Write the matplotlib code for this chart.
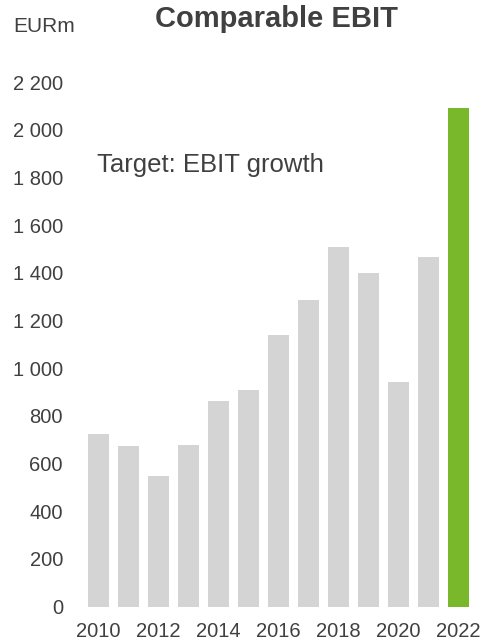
import matplotlib
matplotlib.use("Agg")
import matplotlib.pyplot as plt
from matplotlib.ticker import FuncFormatter

years = list(range(2010, 2023))
ebit = [724, 674, 548, 677, 860, 909, 1137, 1287, 1509, 1399, 941, 1466, 2089]
bar_colors = ["#D4D4D4"] * 12 + ["#78B82A"]
yticks = list(range(0, 2201, 200))
xtick_years = [2010, 2012, 2014, 2016, 2018, 2020, 2022]

plt.rcParams['font.family'] = ['Liberation Sans', 'DejaVu Sans']
txt = "#404040"

fig = plt.figure(figsize=(4.85, 6.44), dpi=100)
ax = fig.add_axes([83.5/485, 37.5/644, 390/485, 524.5/644])
idx = list(range(len(years)))
ax.bar(idx, ebit, width=0.7, color=bar_colors)
ax.set_xlim(-0.5, len(years) - 0.5)
ax.set_ylim(0, 2200)
ax.set_yticks(yticks)
ax.yaxis.set_major_formatter(FuncFormatter(lambda v, p: f"{int(v):,}".replace(",", " ")))
ax.set_xticks([years.index(y) for y in xtick_years])
ax.set_xticklabels([str(y) for y in xtick_years])
for s in ax.spines.values():
    s.set_visible(False)
ax.tick_params(axis='y', length=0, pad=14.8, labelsize=14.5, labelcolor=txt)
ax.tick_params(axis='x', length=0, pad=11, labelsize=14.5, labelcolor=txt)

fig.text(13/485, 1 - 32/644, "EURm", fontsize=15, color=txt, va='baseline', ha='left')
fig.text(277/485, 1 - 27/644, "Comparable EBIT", fontsize=21, fontweight='bold', color=txt, va='baseline', ha='center')
fig.text(97/485, 1 - 172/644, "Target: EBIT growth", fontsize=18.5, color=txt, va='baseline', ha='left')

fig.savefig("out.png", dpi=100)
